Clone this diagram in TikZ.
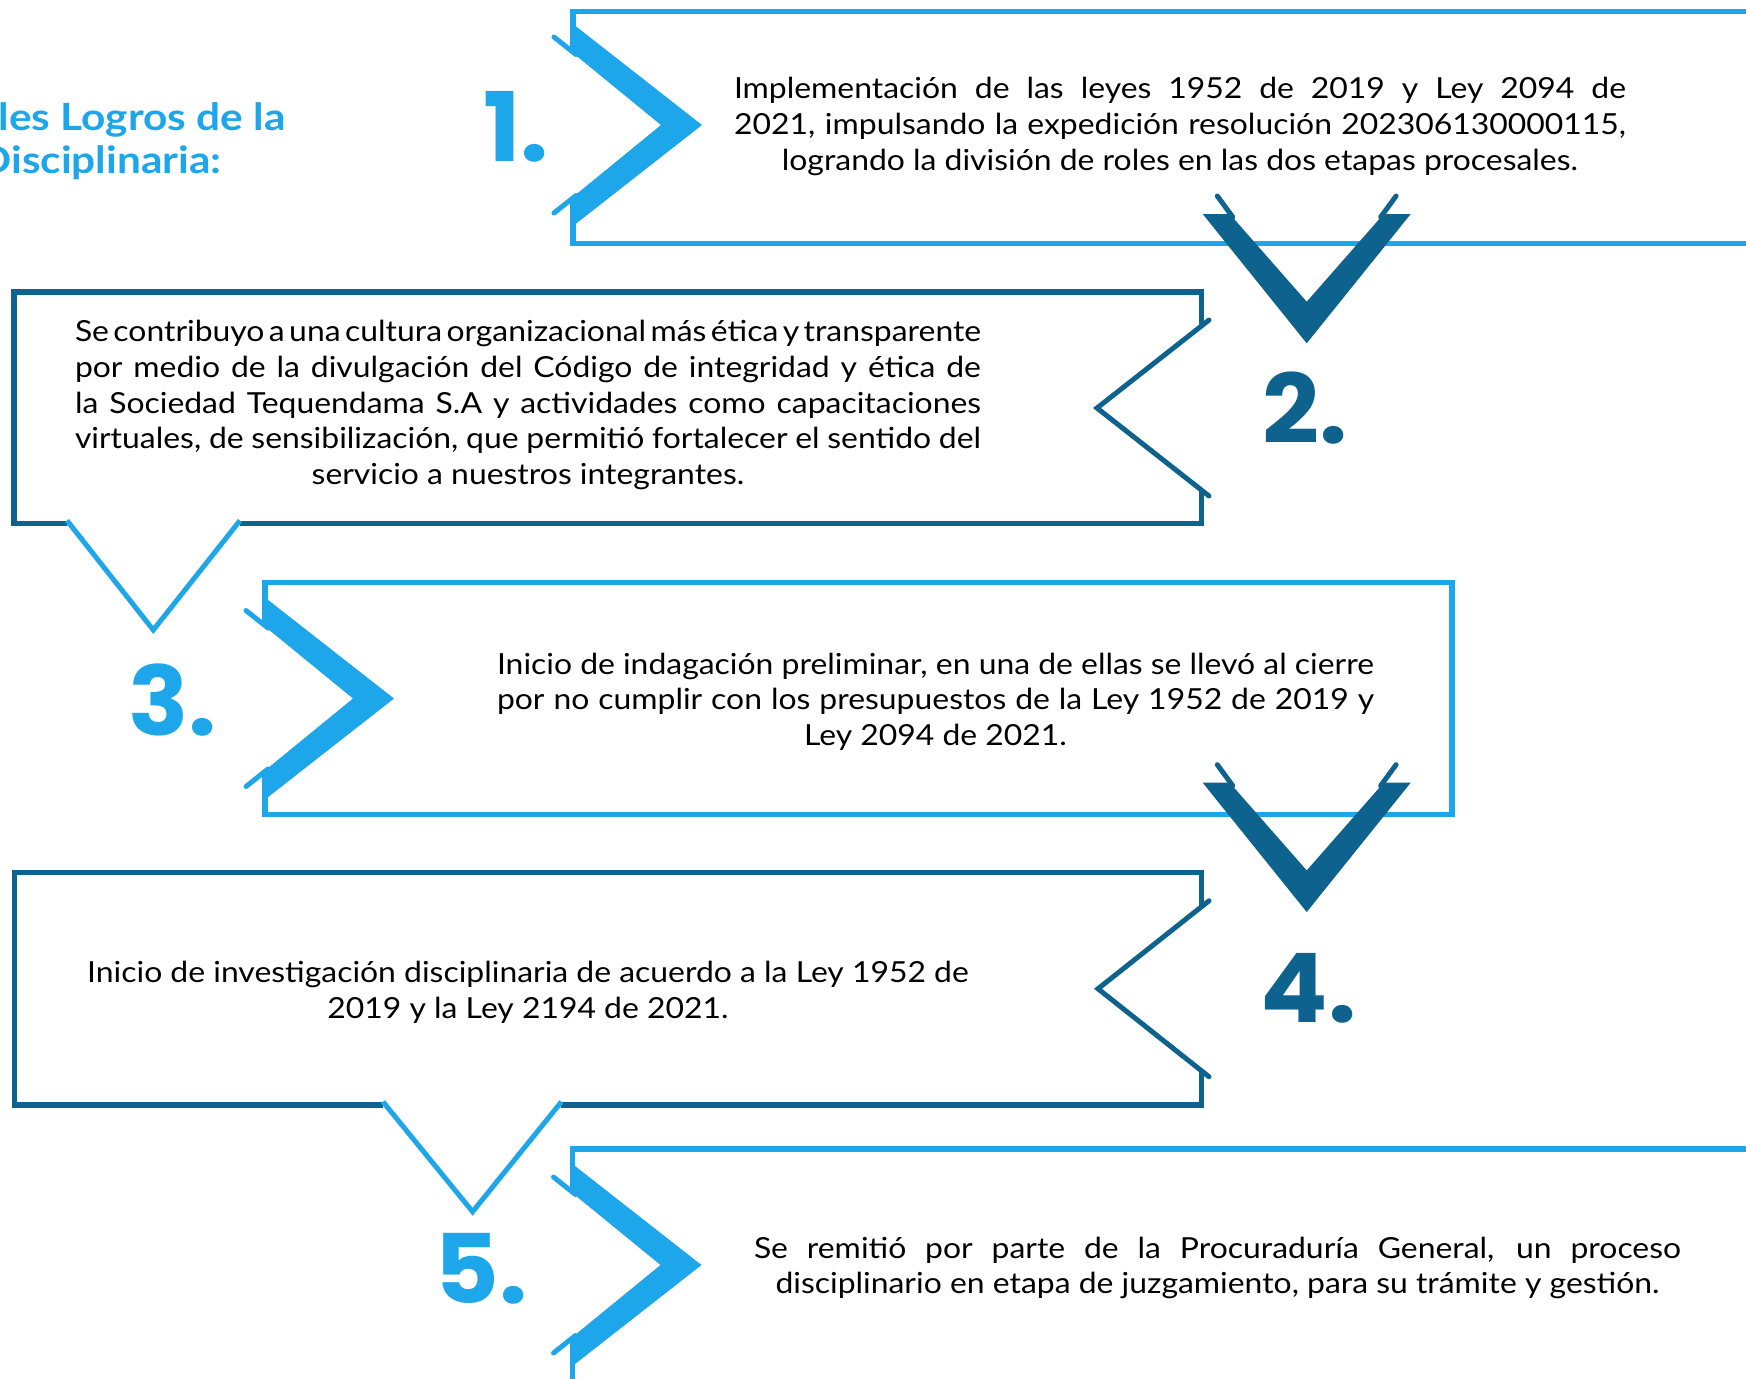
\documentclass[tikz,border=0pt]{standalone}
\usepackage{fontspec}
\setmainfont{Lato}[FakeStretch=1.1]
\newfontfamily\ttlfont{Lato}[FakeStretch=1.13]
\newfontfamily\numfont{Poppins}[FakeStretch=1.04]
\definecolor{lblue}{RGB}{30,166,235}
\definecolor{dblue}{RGB}{14,98,142}
\newcommand\jl[2]{\makebox[#1][s]{\spaceskip=0.25em plus 3em minus 0.25em\relax #2}}
\newcommand\chevR[2]{%
  \fill[lblue] (#1-1.3,#2-102) -- (#1+129,#2) -- (#1-1.3,#2+102) -- (#1-1.3,#2+73) -- (#1+88,#2) -- (#1-1.3,#2-73) -- cycle;
  \draw[lblue,thinln] (#1-19,#2-88) -- (#1+3,#2-70.5);
  \draw[lblue,thinln] (#1-19,#2+88) -- (#1+3,#2+70.5);}
\newcommand\chevD[2]{%
  \fill[dblue] (#1-104,#2) -- (#1,#2+129.3) -- (#1+104,#2) -- (#1+77,#2) -- (#1,#2+87.7) -- (#1-77,#2) -- cycle;
  \draw[dblue,thinln] (#1-89.4,#2-18) -- (#1-74,#2+3);
  \draw[dblue,thinln] (#1+89.4,#2-18) -- (#1+74,#2+3);}
\begin{document}
\begin{tikzpicture}[x=0.5pt,y=-0.5pt,
  lbl/.style={draw=lblue,line width=2.6pt},
  dbl/.style={draw=dblue,line width=2.6pt},
  thinln/.style={line width=2.5pt,line cap=round},
  tail/.style={draw=lblue,line width=2.5pt},
  txt/.style={align=center,inner sep=0pt,font=\fontsize{14.5}{17.8}\selectfont},
  num/.style={anchor=base west,inner sep=0pt,font=\numfont\bfseries\fontsize{48}{48}\selectfont},
  ttl/.style={anchor=base east,inner sep=0pt,text=lblue,font=\ttlfont\bfseries\fontsize{18.75}{22}\selectfont}]
\useasboundingbox (0,0) rectangle (1746,1378);
\clip (0,0) rectangle (1746,1378);
% box 1
\draw[lbl] (573,125-73) -- (573,11.5) -- (1760,11.5);
\draw[lbl] (573,125+73) -- (573,243.5) -- (1760,243.5);
\chevR{573}{125}
% box 2
\draw[dbl] (67,523.7) -- (14,523.7) -- (14,292) -- (1201.5,292) -- (1201.5,326);
\draw[dbl] (1201.5,490) -- (1201.5,523.7) -- (240,523.7);
\draw[dblue,thinln] (1209,320) -- (1097,408) -- (1209,496);
\draw[tail] (67,520.5) -- (153.3,630) -- (240,520.5);
% box 3
\draw[lbl] (265,698.5-73) -- (265,582.5) -- (1452,582.5) -- (1452,814.5) -- (265,814.5) -- (265,698.5+73);
\chevR{265}{698.5}
% box 4
\draw[dbl] (383,1105) -- (14.5,1105) -- (14.5,872.5) -- (1201.5,872.5) -- (1201.5,906.5);
\draw[dbl] (1201.5,1071) -- (1201.5,1105) -- (561.4,1105);
\draw[dblue,thinln] (1209,900.75) -- (1098,988.75) -- (1209,1076.75);
\draw[tail] (383,1101.8) -- (472.6,1211.7) -- (561.4,1101.8);
% box 5
\draw[lbl] (572.5,1265-73) -- (572.5,1149) -- (1760,1149);
\draw[lbl] (572.5,1265+73) -- (572.5,1390);
\chevR{572.5}{1265}
% down chevrons
\chevD{1306.7}{214}
\chevD{1306.7}{782.7}
% title
\node[ttl] (title1) at (286,130) {les Logros de la};
\node[ttl] (title2) at (222,173) {Disciplinaria:};
% numbers
\node[num,text=lblue] (n1) at (483,161) {1.};
\node[num,text=dblue] (n2) at (1262,443) {2.};
\node[num,text=lblue] (n3) at (128,735) {3.};
\node[num,text=dblue] (n4) at (1260,1022) {4.};
\node[num,text=lblue] (n5) at (434,1303) {5.};
% texts
\node[txt] (t1) at (1180,126.5) {\jl{446pt}{Implementación de las leyes 1952 de 2019 y Ley 2094 de}\\
\jl{446pt}{2021, impulsando la expedición resolución 202306130000115,}\\
logrando la división de roles en las dos etapas procesales.};
\node[txt] (t2) at (528,405) {\jl{453pt}{Se contribuyo a una cultura organizacional más ética y transparente}\\
\jl{453pt}{por medio de la divulgación del Código de integridad y ética de}\\
\jl{453pt}{la Sociedad Tequendama S.A y actividades como capacitaciones}\\
\jl{453pt}{virtuales, de sensibilización, que permitió fortalecer el sentido del}\\
servicio a nuestros integrantes.};
\node[txt] (t3) at (935.5,701.5) {\jl{438.5pt}{Inicio de indagación preliminar, en una de ellas se llevó al cierre}\\
\jl{438.5pt}{por no cumplir con los presupuestos de la Ley 1952 de 2019 y}\\
Ley 2094 de 2021.};
\node[txt] (t4) at (528,992.5) {Inicio de investigación disciplinaria de acuerdo a la Ley 1952 de\\
2019 y la Ley 2194 de 2021.};
\node[txt] (t5) at (1217.5,1268) {\jl{463.5pt}{Se remitió por parte de la Procuraduría General, un proceso}\\
disciplinario en etapa de juzgamiento, para su trámite y gestión.};
\end{tikzpicture}
\end{document}
